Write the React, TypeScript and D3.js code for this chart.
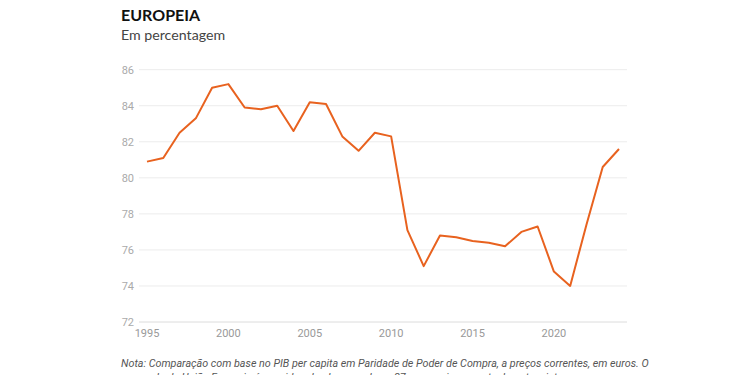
import React from "react";
import * as d3 from "d3";

const years = [1995,1996,1997,1998,1999,2000,2001,2002,2003,2004,2005,2006,2007,2008,2009,2010,2011,2012,2013,2014,2015,2016,2017,2018,2019,2020,2021,2022,2023,2024];
const values = [80.9,81.1,82.5,83.3,85.0,85.2,83.9,83.8,84.0,82.6,84.2,84.1,82.3,81.5,82.5,82.3,77.1,75.1,76.8,76.7,76.5,76.4,76.2,77.0,77.3,74.8,74.0,77.4,80.6,81.6];
const yTicks = [72,74,76,78,80,82,84,86];
const xTicks = [1995,2000,2005,2010,2015,2020];
const title = "EUROPEIA";
const subtitle = "Em percentagem";
const note1 = "Nota: Comparação com base no PIB per capita em Paridade de Poder de Compra, a preços correntes, em euros. O";
const note2 = "agregado da União Europeia é considerado abrangendo as 27 economias que atualmente a integram.";

export default function App() {
  const W = 750, H = 375;
  const x = d3.scaleLinear().domain([1995, 2024]).range([147, 619]);
  const y = d3.scaleLinear().domain([72, 86]).range([322, 69.7]);
  const line = d3.line<number>().x((_, i) => x(years[i])).y((d) => y(d));
  const font = "Roboto, 'Noto Sans', sans-serif";
  return (
    <svg width={W} height={H} style={{ position: "absolute", left: 0, top: 0, background: "#fff" }}>
      <text x={121} y={21} fontFamily="Lato, 'Noto Sans', sans-serif" fontWeight={700} fontSize={16} fill="#111">{title}</text>
      <text x={121} y={40} fontFamily="Lato, 'Noto Sans', sans-serif" fontSize={14.2} fill="#444">{subtitle}</text>
      {yTicks.map((t) => (
        <g key={t}>
          <line x1={139} x2={627} y1={y(t)} y2={y(t)} stroke={t === 72 ? "#dcdcdc" : "#ececec"} strokeWidth={1} />
          <text x={134} y={y(t)} dy="0.35em" textAnchor="end" fontFamily={font} fontSize={11} fill="#aaa">{t}</text>
        </g>
      ))}
      {xTicks.map((t) => (
        <text key={t} x={x(t)} y={337} textAnchor="middle" fontFamily={font} fontSize={11} fill="#999">{t}</text>
      ))}
      <path d={line(values) || ""} fill="none" stroke="#e8621f" strokeWidth={2} strokeLinejoin="round" />
      <text x={121} y={367} fontFamily={font} fontStyle="italic" fontSize={10.75} fill="#555">{note1}</text>
      <text x={121} y={381} fontFamily={font} fontStyle="italic" fontSize={10.75} fill="#555">{note2}</text>
    </svg>
  );
}
